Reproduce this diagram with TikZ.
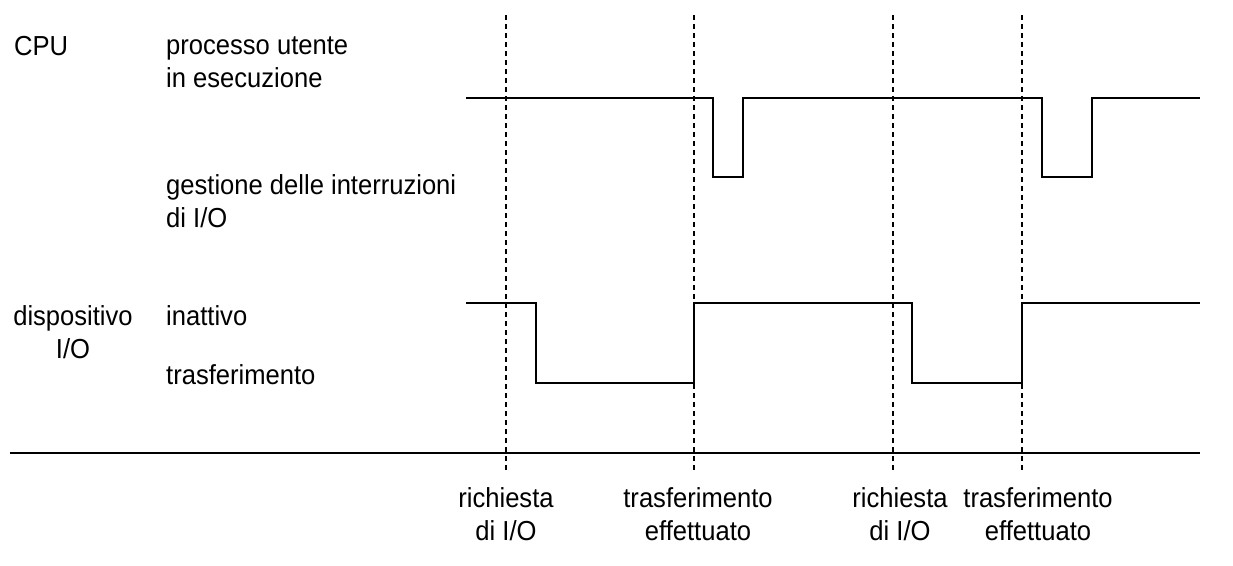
\documentclass[tikz,border=0pt]{standalone}
\usepackage{fontspec}
\setmainfont{Liberation Sans}[FakeStretch=0.93]
\begin{document}
\begin{tikzpicture}[x=1pt,y=-1pt,
  lbl/.style={font=\fontsize{27.5}{32.5}\selectfont, inner sep=0pt, align=left, anchor=west},
  clbl/.style={font=\fontsize{27.5}{32.5}\selectfont, inner sep=0pt, align=center},
  wave/.style={line width=2.8pt, line join=miter},
  guide/.style={line width=1.2pt, dash pattern=on 5pt off 4pt}]
\useasboundingbox (0,0) rectangle (1233,565);
% guides
\foreach \n/\x in {g1/506, g2/694, g3/893, g4/1022}{
  \coordinate (\n t) at (\x,15);
  \coordinate (\n b) at (\x,472);
  \draw[guide] (\n t) -- (\n b);
}
% baseline
\coordinate (b0) at (10,453);
\coordinate (b1) at (1200,453);
\draw[line width=2.5pt] (b0) -- (b1);
% CPU wave
\draw[wave] (466,98) -- (713,98) -- (713,177) -- (743,177) -- (743,98) -- (1042,98) -- (1042,177) -- (1092,177) -- (1092,98) -- (1200,98);
% device wave
\draw[wave] (466,303) -- (536,303) -- (536,383) -- (694,383) -- (694,303) -- (912,303) -- (912,383) -- (1022,383) -- (1022,303) -- (1200,303);
% labels
\node[lbl] (cpu) at (14,46) {CPU};
\node[lbl] (utente) at (166,62) {processo utente\\in esecuzione};
\node[lbl] (gest) at (166,201) {gestione delle interruzioni\\di I/O};
\node[clbl] (disp) at (73,332) {dispositivo\\I/O};
\node[lbl] (inatt) at (166,316) {inattivo};
\node[lbl] (trasf) at (166,375) {trasferimento};
\node[clbl] (r1) at (506,514) {richiesta\\di I/O};
\node[clbl] (t1) at (698,514) {trasferimento\\effettuato};
\node[clbl] (r2) at (900,514) {richiesta\\di I/O};
\node[clbl] (t2) at (1038,514) {trasferimento\\effettuato};
\end{tikzpicture}
\end{document}
